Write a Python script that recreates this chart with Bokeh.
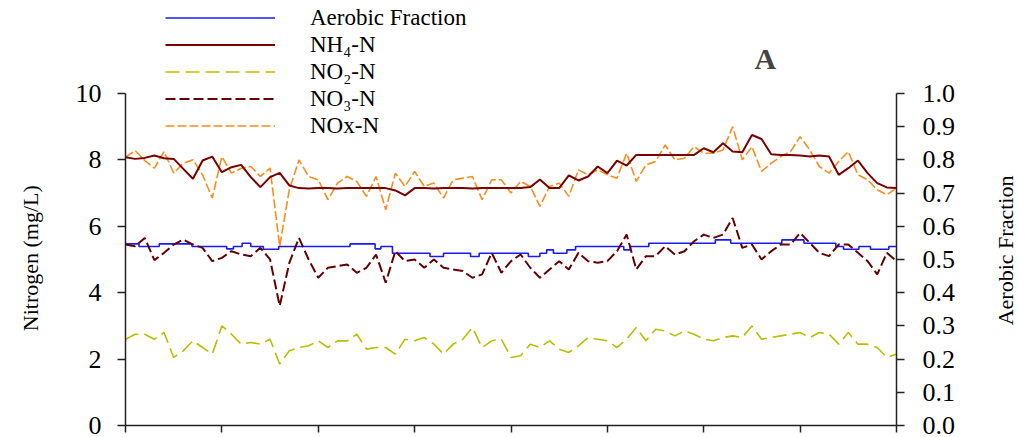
import numpy as np
from bokeh.plotting import figure
from bokeh.layouts import row
from bokeh.models import (Range1d, LinearAxis, FixedTicker, PrintfTickFormatter,
                          Legend, LegendItem, Label)
from bokeh.embed import file_html
from bokeh.resources import INLINE

# ---- data ----
days = [round(i * 0.1, 1) for i in range(81)]

nh4 = [8.08, 8.03, 8.06, 8.13, 8.05, 8.03, 7.73, 7.43, 7.98, 8.10,
       7.63, 7.78, 7.85, 7.48, 7.18, 7.48, 7.61, 7.23, 7.15, 7.14,
       7.15, 7.15, 7.14, 7.15, 7.15, 7.15, 7.15, 7.15, 7.08, 6.93,
       7.15, 7.15, 7.14, 7.15, 7.15, 7.15, 7.14, 7.15, 7.15, 7.15,
       7.15, 7.15, 7.18, 7.41, 7.15, 7.15, 7.53, 7.38, 7.50, 7.80,
       7.60, 7.98, 7.83, 8.15, 8.15, 8.15, 8.15, 8.15, 8.15, 8.15,
       8.35, 8.23, 8.50, 8.25, 8.23, 8.75, 8.63, 8.17, 8.15, 8.15,
       8.13, 8.10, 8.13, 8.10, 7.55, 7.75, 7.98, 7.60, 7.30, 7.17,
       7.15]

nox = [8.08, 8.28, 7.98, 7.75, 8.25, 7.60, 7.90, 8.00, 7.55, 6.85,
       8.10, 7.60, 7.75, 7.80, 7.50, 7.75, 5.40, 7.10, 8.00, 7.50,
       7.40, 6.80, 7.30, 7.50, 7.35, 6.90, 7.50, 6.50, 7.60, 7.20,
       7.65, 7.20, 7.30, 6.85, 7.40, 7.45, 7.50, 6.80, 7.40, 7.40,
       7.00, 7.35, 7.20, 6.60, 7.20, 7.30, 6.90, 7.70, 7.55, 7.70,
       7.55, 7.45, 8.20, 7.35, 7.85, 7.95, 8.45, 8.00, 8.05, 8.40,
       8.20, 8.20, 8.30, 9.00, 8.00, 8.40, 7.65, 7.90, 8.10, 8.25,
       8.70, 8.30, 7.80, 7.60, 7.95, 8.25, 7.55, 7.40, 7.10, 6.95,
       7.15]

no3 = [5.45, 5.40, 5.65, 4.98, 5.20, 5.45, 5.60, 5.45, 5.35, 4.95,
       5.05, 5.25, 5.15, 5.10, 5.35, 5.00, 3.60, 4.90, 5.65, 5.00,
       4.45, 4.75, 4.80, 4.85, 4.60, 4.75, 5.15, 4.30, 5.25, 4.95,
       5.00, 4.75, 5.00, 4.75, 4.70, 4.65, 4.45, 4.55, 5.20, 4.60,
       4.95, 5.15, 4.75, 4.45, 4.70, 4.95, 4.70, 5.20, 4.95, 4.90,
       4.95, 5.25, 5.75, 4.70, 5.10, 5.10, 5.40, 5.15, 5.25, 5.55,
       5.75, 5.65, 5.75, 6.25, 5.35, 5.45, 5.00, 5.25, 5.45, 5.45,
       5.80, 5.50, 5.20, 5.10, 5.45, 5.45, 5.20, 4.95, 4.55, 5.20,
       4.95]

no2 = [2.60, 2.75, 2.75, 2.60, 2.80, 2.05, 2.25, 2.55, 2.35, 2.15,
       3.00, 2.75, 2.45, 2.50, 2.45, 2.60, 1.85, 2.25, 2.35, 2.40,
       2.55, 2.35, 2.55, 2.55, 2.75, 2.30, 2.35, 2.35, 2.15, 2.60,
       2.55, 2.65, 2.45, 2.15, 2.45, 2.60, 2.95, 2.35, 2.55, 2.60,
       2.05, 2.10, 2.45, 2.35, 2.55, 2.30, 2.20, 2.40, 2.65, 2.60,
       2.55, 2.35, 2.60, 2.95, 2.55, 2.90, 2.85, 2.70, 2.85, 2.75,
       2.60, 2.55, 2.65, 2.70, 2.65, 3.00, 2.60, 2.65, 2.70, 2.75,
       2.80, 2.65, 2.80, 2.75, 2.45, 2.80, 2.45, 2.45, 2.35, 2.05,
       2.15]

af_days = [0, 0.14, 0.35, 0.69, 1.05, 1.12, 1.21, 1.30, 1.43, 1.59,
           2.33, 2.59, 2.65, 2.77, 3.16, 3.30, 3.58, 3.67, 4.18, 4.30,
           4.37, 4.44, 4.58, 4.67, 5.17, 5.24, 5.43, 6.12, 6.28, 6.81,
           7.04, 7.37, 7.45, 7.61, 7.73, 7.92, 8.0]
af = [0.547, 0.539, 0.547, 0.539, 0.532, 0.539, 0.549, 0.539, 0.531, 0.539,
      0.547, 0.532, 0.539, 0.519, 0.509, 0.519, 0.509, 0.519, 0.509, 0.519,
      0.529, 0.519, 0.529, 0.539, 0.529, 0.539, 0.549, 0.559, 0.549, 0.559,
      0.549, 0.539, 0.531, 0.539, 0.531, 0.539, 0.539]

left_ticks = [0, 2, 4, 6, 8, 10]
right_ticks = [0.0, 0.1, 0.2, 0.3, 0.4, 0.5, 0.6, 0.7, 0.8, 0.9, 1.0]
x_ticks = [0, 1, 2, 3, 4, 5, 6, 7, 8]

FONT = "Liberation Serif"
AX = "#222222"
H = 437


def side_figure(width, text, x, y):
    f = figure(width=width, height=H, output_backend="svg", toolbar_location=None,
               x_range=Range1d(0, width), y_range=Range1d(0, H), min_border=0,
               x_axis_location=None, y_axis_location=None)
    f.outline_line_color = None
    f.xgrid.visible = False
    f.ygrid.visible = False
    f.add_layout(Label(x=x, y=y, text=text, text_font=FONT, text_font_size="22px",
                       angle=np.pi / 2, text_align="center", text_baseline="middle",
                       text_color="black"))
    return f


left_title = side_figure(50, "Nitrogen (mg/L)", 30, H - 265)
right_title = side_figure(30, "Aerobic Fraction", 16, H - 257)

p = figure(width=939, height=H, output_backend="svg", toolbar_location=None,
           x_range=Range1d(0, 8), y_range=Range1d(0, 12.8),
           min_border_left=75, min_border_right=93, min_border_top=0,
           min_border_bottom=12, y_axis_location=None, x_axis_location=None)
p.outline_line_color = None
p.xgrid.visible = False
p.ygrid.visible = False
p.extra_y_ranges = {"af": Range1d(0, 1.28)}

# axes
xa = LinearAxis(ticker=FixedTicker(ticks=x_ticks), bounds=(0, 8),
                major_label_overrides={t: "" for t in x_ticks},
                major_label_text_font_size="0px", major_label_standoff=0,
                major_tick_out=7, major_tick_in=0, minor_tick_out=0, minor_tick_in=0,
                axis_line_color=AX, axis_line_width=1.5, major_tick_line_color=AX,
                major_tick_line_width=1.5)
p.add_layout(xa, "below")

ya = LinearAxis(ticker=FixedTicker(ticks=left_ticks), bounds=(0, 10),
                major_label_text_font=FONT, major_label_text_font_size="26px",
                major_label_text_color="black", major_label_standoff=16,
                major_tick_out=8, major_tick_in=0, minor_tick_out=0, minor_tick_in=0,
                axis_line_color=AX, axis_line_width=1.5, major_tick_line_color=AX,
                major_tick_line_width=1.5)
p.add_layout(ya, "left")

ra = LinearAxis(y_range_name="af", ticker=FixedTicker(ticks=right_ticks), bounds=(0, 1),
                formatter=PrintfTickFormatter(format="%.1f"),
                major_label_text_font=FONT, major_label_text_font_size="26px",
                major_label_text_color="black", major_label_standoff=18,
                major_tick_out=8, major_tick_in=0, minor_tick_out=0, minor_tick_in=0,
                axis_line_color=AX, axis_line_width=1.5, major_tick_line_color=AX,
                major_tick_line_width=1.5)
p.add_layout(ra, "right")

# series
r_no2 = p.line(days, no2, line_color="#BDBD00", line_width=1.6, line_dash="14 6")
r_nox = p.line(days, nox, line_color="#FF8C1A", line_width=1.6, line_dash="9 3")
r_nh4 = p.line(days, nh4, line_color="#7A0000", line_width=2)
r_af = p.step(af_days, af, mode="after", y_range_name="af", line_color="#1A1AFF", line_width=1.6)
r_no3 = p.line(days, no3, line_color="#660000", line_width=2, line_dash="10 4")

legend = Legend(items=[
    LegendItem(label="Aerobic Fraction", renderers=[r_af]),
    LegendItem(label="NH\u2084-N", renderers=[r_nh4]),
    LegendItem(label="NO\u2082-N", renderers=[r_no2]),
    LegendItem(label="NO\u2083-N", renderers=[r_no3]),
    LegendItem(label="NOx-N", renderers=[r_nox]),
], location=(40, 286), orientation="vertical",
    glyph_width=110, glyph_height=27, label_height=27, label_standoff=35,
    spacing=0, padding=0, margin=0,
    label_text_font=FONT, label_text_font_size="23px", label_text_color="black",
    border_line_color=None, background_fill_alpha=0)
p.add_layout(legend, "center")

p.add_layout(Label(x=6.64, y=11.05, text="A", text_font=FONT, text_font_size="30px",
                   text_font_style="bold", text_align="center", text_baseline="middle"))

layout = row(left_title, p, right_title, spacing=0)
open("out.html", "w").write(file_html(layout, INLINE))
